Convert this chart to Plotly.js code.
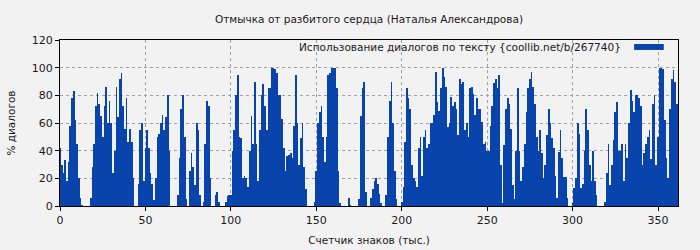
<!DOCTYPE html>
<html>
<head>
<meta charset="utf-8">
<script src="https://cdn.plot.ly/plotly-3.0.1.min.js"></script>
<style>html,body{margin:0;padding:0;background:#f2f2f2;}#chart{width:700px;height:250px;}</style>
</head>
<body>
<div id="chart"></div>
<script>
// share of dialogue (%) per thousand characters of text
const usage000 = [42,30,24,33,18,32,58,78,83,62, 45,20,6,1,0,0,0,0,6,28, 45,72,82,74,65,50,72,86,60,76, 60,24,40,86,64,92,96,72,56,78, 46,56,46,20,0,0,16,55,60,18];
const usage050 = [42,55,42,24,16,4,20,50,52,60, 66,55,64,80,40,0,0,0,0,8, 35,70,80,50,5,0,25,38,28,15, 60,55,8,0,3,45,76,72,20,0, 0,8,10,3,0,0,0,3,7,8];
const usage100 = [8,40,55,80,95,50,49,20,22,20, 14,40,65,45,90,45,18,55,80,88, 72,55,85,85,100,100,99,96,80,80, 63,42,25,36,37,38,35,58,95,60, 30,49,60,28,12,0,0,0,0,3];
const usage150 = [25,60,68,72,50,32,50,95,96,100, 100,100,85,25,2,0,0,0,0,6, 1,0,0,0,0,5,65,85,90,10, 0,0,6,12,18,20,16,9,2,0, 0,8,50,76,90,60,25,5,0,0];
const usage200 = [3,14,46,85,78,70,30,20,18,14, 42,50,22,50,55,42,45,60,60,66, 97,75,69,85,100,93,86,57,60,79, 72,75,70,51,92,88,90,55,60,50, 85,86,81,66,78,70,70,61,45,46];
const usage250 = [40,40,58,72,89,92,85,95,30,2, 44,70,78,74,56,15,5,40,85,40, 18,28,45,68,85,92,97,86,74,50, 40,55,38,20,30,51,70,60,49,42, 22,6,39,55,35,21,21,6,0,0];
const usage300 = [2,13,20,60,52,13,16,40,70,55, 30,18,40,18,8,0,0,0,0,3, 24,45,15,30,48,68,75,40,40,45, 18,45,35,60,84,76,68,80,80,78, 72,30,38,45,50,55,34,74,80,30];
const usage350 = [50,100,100,99,62,35,20,70,92,98,90,74];

const usage = [].concat(usage000, usage050, usage100, usage150, usage200, usage250, usage300, usage350);
const charCounter = usage.map((_, i) => i); // thousands of characters

const xTicks = [0, 50, 100, 150, 200, 250, 300, 350];
const yTicks = [0, 20, 40, 60, 80, 100, 120];

const titleText = 'Отмычка от разбитого сердца (Наталья Александрова)';
const legendText = 'Использование диалогов по тексту {coollib.net/b/267740}';
const xTitle = 'Счетчик знаков (тыс.)';
const yTitle = '% диалогов';

const barColor = '#0844ab';
const font = {family: 'DejaVu Sans, sans-serif', size: 10.5, color: '#1a1a1a'};
const tickFont = {family: 'DejaVu Sans, sans-serif', size: 11, color: '#1a1a1a'};

const trace = {
  type: 'bar',
  x: charCounter,
  y: usage,
  width: 1,
  marker: {color: barColor, line: {width: 0}},
  name: legendText,
  showlegend: false,
  hoverinfo: 'x+y'
};

const axisCommon = {
  showline: true, mirror: true, linecolor: '#000', linewidth: 1,
  ticks: 'outside', ticklen: 4, tickcolor: '#000',
  showgrid: true, gridcolor: '#a0a0a0', griddash: 'dot', gridwidth: 1,
  zeroline: false, tickfont: tickFont
};

const layout = {
  width: 700, height: 250,
  margin: {l: 60, r: 22, t: 40, b: 44},
  paper_bgcolor: '#f2f2f2', plot_bgcolor: '#f2f2f2',
  font: font,
  bargap: 0,
  title: {text: titleText, font: font, x: 0.5, xref: 'paper', y: 0.924, yanchor: 'middle'},
  xaxis: Object.assign({}, axisCommon, {
    range: [0, 361.7], tickvals: xTicks, ticktext: xTicks.map(String),
    title: {text: xTitle, font: font, standoff: 10}
  }),
  yaxis: Object.assign({}, axisCommon, {
    range: [0, 120], tickvals: yTicks, ticktext: yTicks.map(String),
    title: {text: yTitle, font: font, standoff: 14}
  }),
  annotations: [{
    xref: 'paper', yref: 'paper', x: 0.911, y: 0.958,
    xanchor: 'right', yanchor: 'middle', showarrow: false,
    text: legendText, font: font
  }],
  shapes: [{
    type: 'rect', xref: 'paper', yref: 'paper',
    x0: 0.929, x1: 0.977, y0: 0.94, y1: 0.976,
    fillcolor: barColor, line: {width: 0}
  }],
  showlegend: false
};

Plotly.newPlot('chart', [trace], layout, {displayModeBar: false, staticPlot: true});
</script>
</body>
</html>
